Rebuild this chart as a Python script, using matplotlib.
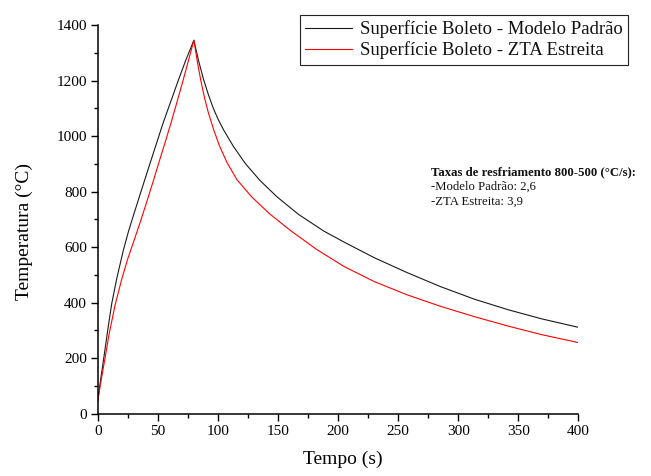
"""Perfil térmico na superfície do boleto: modelo padrão vs ZTA estreita."""

import matplotlib
matplotlib.use("Agg")
import matplotlib.pyplot as plt
from matplotlib.ticker import MultipleLocator

# Modelo Padrão (black)
TEMPO_PADRAO = [0, 2.5, 5.2, 8.3, 11.6, 16, 21.4, 25.5, 30, 36, 44, 50, 54, 60, 67, 73, 80,
                84, 88, 92, 96, 100, 105, 113, 122.8, 135, 149.2, 167, 188, 205, 230, 257.5,
                285, 313, 341, 369, 400]
TEMP_PADRAO = [45, 125, 205, 300, 395, 490, 590, 655, 718, 800, 908, 988, 1042, 1115, 1200,
               1270, 1345, 1270, 1205, 1150, 1102, 1062, 1020, 962, 901, 840, 781, 718, 658,
               618, 562, 508, 458, 413, 375, 342, 311]

# ZTA Estreita (red)
TEMPO_ZTA = [0, 2.5, 6.1, 9.4, 14.4, 20, 25, 30.3, 35, 40, 46, 52, 57, 61, 65, 71, 76, 80,
             83, 86, 89, 92, 96.3, 101, 107.5, 115.8, 128.3, 143, 160.3, 182, 205, 230,
             257.5, 285, 313, 341, 369, 400]
TEMP_ZTA = [45, 112, 200, 285, 390, 485, 558, 625, 685, 752, 835, 920, 990, 1048, 1108, 1200,
            1280, 1345, 1265, 1195, 1135, 1085, 1025, 968, 905, 843, 780, 720, 660, 592, 530,
            476, 428, 387, 350, 316, 285, 256]

LABELS = ["Superfície Boleto - Modelo Padrão", "Superfície Boleto - ZTA Estreita"]
NOTE_TITLE = "Taxas de resfriamento 800-500 (°C/s):"
NOTE_LINES = ["-Modelo Padrão: 2,6", "-ZTA Estreita: 3,9"]

plt.rcParams["font.family"] = ["Liberation Serif", "DejaVu Serif"]
plt.rcParams["text.color"] = "#111111"

fig = plt.figure(figsize=(6.51, 4.76), dpi=100)
ax = fig.add_axes([0.1501, 0.1309, 0.7385, 0.8166])

l1, = ax.plot(TEMPO_PADRAO, TEMP_PADRAO, color="#1a1a1a", lw=0.8)
l2, = ax.plot(TEMPO_ZTA, TEMP_ZTA, color="#ff0000", lw=0.8)

ax.set_xlim(0, 400)
ax.set_ylim(0, 1400)
ax.xaxis.set_major_locator(MultipleLocator(50))
ax.xaxis.set_minor_locator(MultipleLocator(25))
ax.yaxis.set_major_locator(MultipleLocator(200))
ax.yaxis.set_minor_locator(MultipleLocator(100))

for side in ("top", "right"):
    ax.spines[side].set_visible(False)
for side in ("left", "bottom"):
    ax.spines[side].set_linewidth(1.1)

ax.tick_params(which="major", direction="out", length=4.8, width=1.0, labelsize=11, pad=3)
ax.tick_params(which="minor", direction="out", length=2.6, width=1.0)

ax.set_xlabel("Tempo (s)", fontsize=14)
ax.set_ylabel("Temperatura (°C)", fontsize=14)
ax.xaxis.set_label_coords(0.51, -0.095)
ax.yaxis.set_label_coords(-0.135, 0.47)

leg = fig.legend([l1, l2], LABELS, loc="upper right",
                 bbox_to_anchor=(628 / 651, 1 - 15 / 476), borderaxespad=0,
                 fontsize=13.5, handlelength=2.5, handletextpad=0.4,
                 labelspacing=0.15, borderpad=0.3, fancybox=False, framealpha=1)
leg.get_frame().set_edgecolor("#222222")
leg.get_frame().set_linewidth(0.8)

fig.text(431 / 651, 1 - 175.7 / 476, NOTE_TITLE, fontsize=9.2, fontweight="bold",
         va="baseline", ha="left")
for i, line in enumerate(NOTE_LINES):
    fig.text(431 / 651, 1 - (190 + 14.3 * i) / 476, line, fontsize=9.2,
             va="baseline", ha="left")

fig.savefig("out.png", dpi=100, facecolor="white")
